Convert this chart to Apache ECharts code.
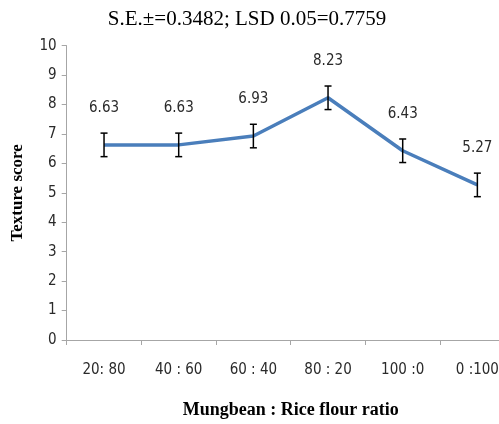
<!DOCTYPE html>
<html>
<head>
<meta charset="utf-8">
<script src="https://cdn.jsdelivr.net/npm/echarts@6/dist/echarts.min.js"></script>
<style>
html,body{margin:0;padding:0;overflow:hidden;background:#fff;}
#c{width:530px;height:424px;}
</style>
</head>
<body>
<div id="c"></div>
<script>
var categories = ['20: 80', '40 : 60', '60 : 40', '80 : 20', '100 :0', '0 :100'];
var scores = [6.63, 6.63, 6.93, 8.23, 6.43, 5.27];
var errors = [0.4, 0.4, 0.4, 0.4, 0.4, 0.4];
var yTicks = [0, 1, 2, 3, 4, 5, 6, 7, 8, 9, 10];

var narrow = '"Liberation Sans Narrow", "DejaVu Sans Condensed", "Open Sans", sans-serif';
var serif = '"Liberation Serif", "DejaVu Serif", serif';

var errData = scores.map(function (v, i) { return [i, v - errors[i], v + errors[i]]; });

var chart = echarts.init(document.getElementById('c'), null, {renderer: 'canvas'});
chart.setOption({
  animation: false,
  title: {
    text: 'S.E.±=0.3482; LSD 0.05=0.7759',
    left: 242,
    textAlign: 'center',
    top: 4,
    textStyle: {fontFamily: serif, fontSize: 21, fontWeight: 'normal', color: '#000'}
  },
  grid: {left: 66.7, top: 45.7, bottom: 84, width: 448, outerBoundsMode: 'none', containLabel: false},
  xAxis: {
    type: 'category',
    data: categories,
    boundaryGap: true,
    name: 'Mungbean : Rice flour ratio',
    nameLocation: 'middle',
    nameGap: 61,
    nameTextStyle: {fontFamily: serif, fontSize: 18, fontWeight: 'bold', color: '#000'},
    axisLine: {lineStyle: {color: '#a6a6a6', width: 1}},
    axisTick: {show: true, alignWithLabel: false, length: 5, lineStyle: {color: '#a6a6a6'}},
    axisLabel: {margin: 23, fontFamily: narrow, fontSize: 15, color: '#2a2a2a'},
    splitLine: {show: false}
  },
  yAxis: {
    type: 'value',
    min: yTicks[0],
    max: yTicks[yTicks.length - 1],
    interval: 1,
    name: 'Texture score',
    nameLocation: 'middle',
    nameGap: 41,
    nameRotate: 90,
    nameTextStyle: {fontFamily: serif, fontSize: 17, fontWeight: 'bold', color: '#000'},
    axisLine: {show: true, lineStyle: {color: '#a6a6a6', width: 1}},
    axisTick: {show: true, length: 5, inside: false, lineStyle: {color: '#a6a6a6'}},
    axisLabel: {margin: 10, fontFamily: narrow, fontSize: 15, color: '#2a2a2a'},
    splitLine: {show: false}
  },
  series: [
    {
      type: 'line',
      data: scores,
      symbol: 'circle',
      symbolSize: 0,
      showSymbol: true,
      lineStyle: {color: '#4a7ebb', width: 3.5},
      itemStyle: {color: '#4a7ebb'},
      label: {
        show: true,
        position: 'top',
        distance: 29,
        fontFamily: narrow,
        fontSize: 15,
        color: '#2a2a2a',
        formatter: function (p) { return p.value.toFixed(2); }
      },
      z: 2
    },
    {
      type: 'custom',
      data: errData,
      z: 3,
      renderItem: function (params, api) {
        var x = api.value(0);
        var lo = api.coord([x, api.value(1)]);
        var hi = api.coord([x, api.value(2)]);
        var cw = 3.5;
        var style = {stroke: '#000', lineWidth: 1.5, fill: null};
        return {
          type: 'group',
          children: [
            {type: 'line', shape: {x1: lo[0], y1: lo[1], x2: hi[0], y2: hi[1]}, style: style},
            {type: 'line', shape: {x1: lo[0] - cw, y1: lo[1], x2: lo[0] + cw, y2: lo[1]}, style: style},
            {type: 'line', shape: {x1: hi[0] - cw, y1: hi[1], x2: hi[0] + cw, y2: hi[1]}, style: style}
          ]
        };
      }
    }
  ]
});
</script>
</body>
</html>
